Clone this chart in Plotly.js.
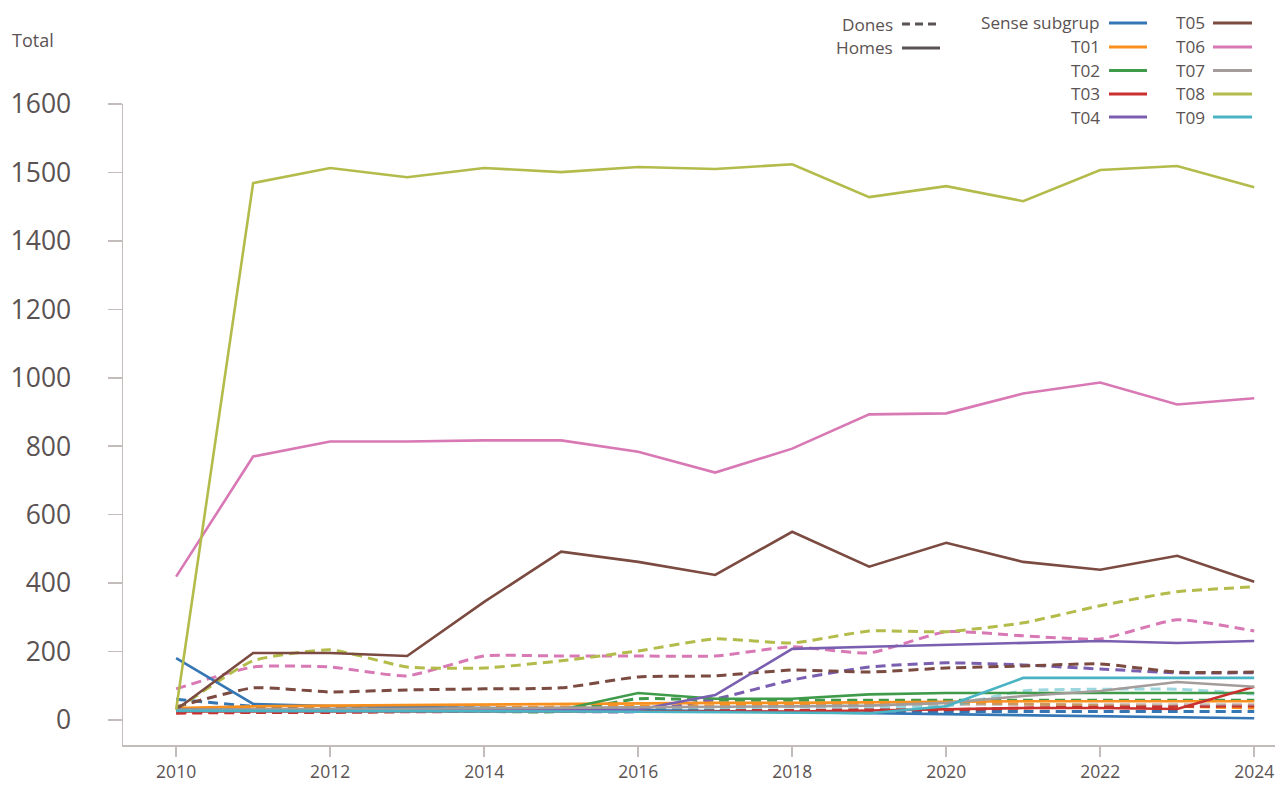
<!DOCTYPE html>
<html>
<head>
<meta charset="utf-8">
<script src="https://cdn.plot.ly/plotly-3.0.1.min.js"></script>
<style>
html,body{margin:0;padding:0;background:#fff;}
#chart{width:1279px;height:792px;}
</style>
</head>
<body>
<div id="chart"></div>
<script>
// ---- data ----
const years = [2010,2011,2012,2013,2014,2015,2016,2017,2018,2019,2020,2021,2022,2023,2024];
const groups = ['Sense subgrup','T01','T02','T03','T04','T05','T06','T07','T08','T09'];

// Homes (solid)
const homesSense = [181,47,41,38,35,32,30,28,25,22,18,15,12,9,5];
const homesT01   = [35,40,42,44,46,48,50,50,50,52,53,55,55,55,55];
const homesT02   = [30,30,30,30,30,30,79,62,62,75,79,79,79,79,79];
const homesT03   = [25,25,25,25,25,25,25,25,25,28,32,35,35,32,97];
const homesT04   = [30,30,30,30,30,30,30,73,208,214,220,225,231,225,231];
const homesT05   = [30,196,196,187,345,492,462,424,550,448,518,462,439,480,404];
const homesT06   = [419,770,814,814,817,817,784,723,793,893,896,954,986,922,940];
const homesT07   = [30,30,32,33,34,35,36,38,40,42,50,70,85,111,97];
const homesT08   = [30,1569,1613,1586,1613,1601,1616,1610,1624,1528,1560,1516,1607,1619,1557];
const homesT09   = [27,27,27,26,26,25,24,23,22,20,40,123,123,123,123];

// Dones (dashed)
const donesSense = [61,40,35,32,30,28,28,28,27,25,25,25,25,25,25];
const donesT01   = [30,32,33,35,36,38,40,42,45,48,50,47,42,40,35];
const donesT02   = [25,25,25,25,25,25,62,58,58,58,58,58,58,58,58];
const donesT03   = [20,22,22,24,25,26,27,28,28,30,30,35,38,40,41];
const donesT04   = [25,25,25,25,25,25,25,61,117,155,167,161,149,138,138];
const donesT05   = [38,94,82,88,91,94,126,129,146,140,152,158,164,140,140];
const donesT06   = [91,155,155,129,187,187,187,187,214,196,258,246,237,293,260];
const donesT07   = [28,30,30,32,33,34,35,38,40,44,45,45,45,45,45];
const donesT08   = [30,173,205,155,152,173,202,237,225,260,258,284,334,375,389];
const donesT09   = [25,26,27,28,28,30,32,35,38,38,40,85,90,90,76];

// y tick labels as printed on the reference
const yTickVals  = [0,200,400,600,800,1000,1200,1400,1600,1800];
const yTickText  = ['0','200','400','600','800','1000','1200','1400','1500','1600'];
const xTickVals  = [2010,2012,2014,2016,2018,2020,2022,2024];

const colors = ['#3576b4','#f7901e','#3f9b4a','#c9302e','#7a5fb0','#7b4a40','#d878b4','#a39c9a','#b3bb4a','#4ab4c4'];

const homes = [homesSense,homesT01,homesT02,homesT03,homesT04,homesT05,homesT06,homesT07,homesT08,homesT09];
const dones = [donesSense,donesT01,donesT02,donesT03,donesT04,donesT05,donesT06,donesT07,donesT08,donesT09];

const traces = [];
groups.forEach((g,i)=>{
  traces.push({
    x: years, y: dones[i], name: g+' Dones', type:'scatter', mode:'lines',
    line:{color:colors[i], width:3, dash:'10px,6px', shape:'spline', smoothing:0.5},
    opacity: (g==='T07'||g==='T09') ? 0.55 : 1,
    showlegend:false, hoverinfo:'x+y+name'
  });
});
groups.forEach((g,i)=>{
  traces.push({
    x: years, y: homes[i], name: g+' Homes', type:'scatter', mode:'lines',
    line:{color:colors[i], width:2.6},
    showlegend:false, hoverinfo:'x+y+name'
  });
});

// plot area in pixels
const L=123, R=1275, T=104, B=745;
const px = x => (x-L)/(R-L);
const py = y => (B-y)/(B-T);

const textColor = '#5b5353';
const annotations = [];
const shapes = [];
function legendItem(label, textRight, lineX0, lineX1, y, color, dash){
  annotations.push({xref:'paper', yref:'paper', x:px(textRight), y:py(y), xanchor:'right', yanchor:'middle',
    text:label, showarrow:false, font:{family:'Open Sans, sans-serif', size:17.2, color:textColor}});
  shapes.push({type:'line', xref:'paper', yref:'paper', x0:px(lineX0), x1:px(lineX1), y0:py(y), y1:py(y),
    line:{color:color, width:3, dash:dash}});
}
legendItem('Dones', 895, 902, 940, 24, '#5b5353', '8px,5px');
legendItem('Homes', 895, 902, 940, 48, '#5b5353', 'solid');
const rowsY = [23,47,70.5,94,117];
groups.forEach((g,i)=>{
  if(i<5) legendItem(g, 1102, 1109, 1147, rowsY[i], colors[i], 'solid');
  else legendItem(g, 1207, 1213, 1252, rowsY[i-5], colors[i], 'solid');
});
annotations.push({xref:'paper', yref:'paper', x:px(10), y:py(40), xanchor:'left', yanchor:'middle',
  text:'Total', showarrow:false, font:{family:'Open Sans, sans-serif', size:18, color:textColor}});

const layout = {
  width:1279, height:792,
  margin:{l:L, r:1279-R, t:T, b:792-B, pad:0},
  paper_bgcolor:'#fff', plot_bgcolor:'#fff',
  showlegend:false,
  font:{family:'Open Sans, sans-serif', color:textColor},
  xaxis:{
    range:[2009.31, 2024.27], tickvals:xTickVals, ticktext:xTickVals.map(String),
    showgrid:false, zeroline:false, showline:true, linecolor:'#c4bcba', linewidth:1.5,
    ticks:'outside', ticklen:10, tickcolor:'#c4bcba', tickwidth:1.5,
    tickfont:{family:'Open Sans, sans-serif', size:17.5, color:textColor}
  },
  yaxis:{
    range:[-73, 1800], tickvals:yTickVals, ticktext:yTickText,
    showgrid:false, zeroline:false, showline:true, linecolor:'#c4bcba', linewidth:1.5,
    ticks:'outside', ticklen:14, tickcolor:'#c4bcba', tickwidth:1.5,
    ticklabelstandoff:31,
    tickfont:{family:'Open Sans, sans-serif', size:26.5, color:textColor}
  },
  annotations, shapes
};

Plotly.newPlot('chart', traces, layout, {displayModeBar:false, staticPlot:true});
</script>
</body>
</html>
